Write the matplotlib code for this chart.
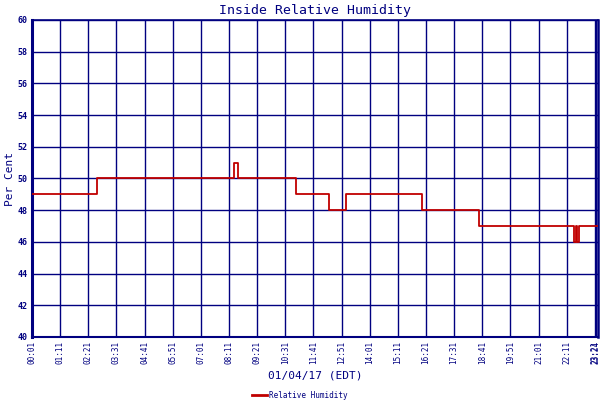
import matplotlib
matplotlib.use('Agg')
import matplotlib.pyplot as plt
from matplotlib.lines import Line2D

# step change points (time of day, humidity %)
change_times = ['00:01', '02:42', '08:24', '08:34', '10:57', '12:21', '13:03',
                '16:10', '18:33', '22:30', '22:34', '22:37', '22:41', '23:27']
humidity = [49, 50, 51, 50, 49, 48, 49, 48, 47, 46, 47, 46, 47, 47]

tick_labels = ['00:01', '01:11', '02:21', '03:31', '04:41', '05:51', '07:01',
               '08:11', '09:21', '10:31', '11:41', '12:51', '14:01', '15:11',
               '16:21', '17:31', '18:41', '19:51', '21:01', '22:11', '23:21',
               '23:24']
y_ticks = list(range(40, 61, 2))

NAVY = '#000080'
RED = '#c00000'


def to_min(s):
    h, m = s.split(':')
    return int(h) * 60 + int(m)


x = [to_min(t) for t in change_times]
xt = [to_min(t) for t in tick_labels]

plt.rcParams['font.family'] = ['DejaVu Sans Mono']

fig = plt.figure(figsize=(6, 4), dpi=100)
ax = fig.add_axes([32 / 600, 1 - 337 / 400, 566 / 600, 317 / 400])

ax.step(x, humidity, where='post', color=RED, lw=1.3, zorder=3)

ax.set_xlim(xt[0], 1409)
ax.set_ylim(40, 60)
ax.set_xticks(xt)
ax.set_xticklabels(tick_labels, rotation=90, fontsize=5.5, color=NAVY)
ax.set_yticks(y_ticks)
ax.set_yticklabels([str(v) for v in y_ticks], fontsize=6, color=NAVY, fontweight='bold')
ax.tick_params(length=0, pad=3)
ax.grid(True, color=NAVY, lw=1.0)
ax.set_axisbelow(True)
for side, w in [('left', 2.2), ('right', 1.8), ('top', 1.2), ('bottom', 1.5)]:
    ax.spines[side].set_color(NAVY)
    ax.spines[side].set_linewidth(w)

ax.set_ylabel('Per Cent', color=NAVY, fontsize=8, labelpad=2)
ax.set_title('Inside Relative Humidity', color=NAVY, fontsize=9.5, pad=4)
fig.text(0.525, 0.055, '01/04/17 (EDT)', color=NAVY, fontsize=8, ha='center')

handle = Line2D([], [], color=RED, lw=2)
fig.legend([handle], ['Relative Humidity'], loc='center', bbox_to_anchor=(0.5, 0.012),
           frameon=False, fontsize=5.5, labelcolor=NAVY, handlelength=2,
           handletextpad=0.3, borderpad=0)

fig.savefig('out.png', dpi=100)
